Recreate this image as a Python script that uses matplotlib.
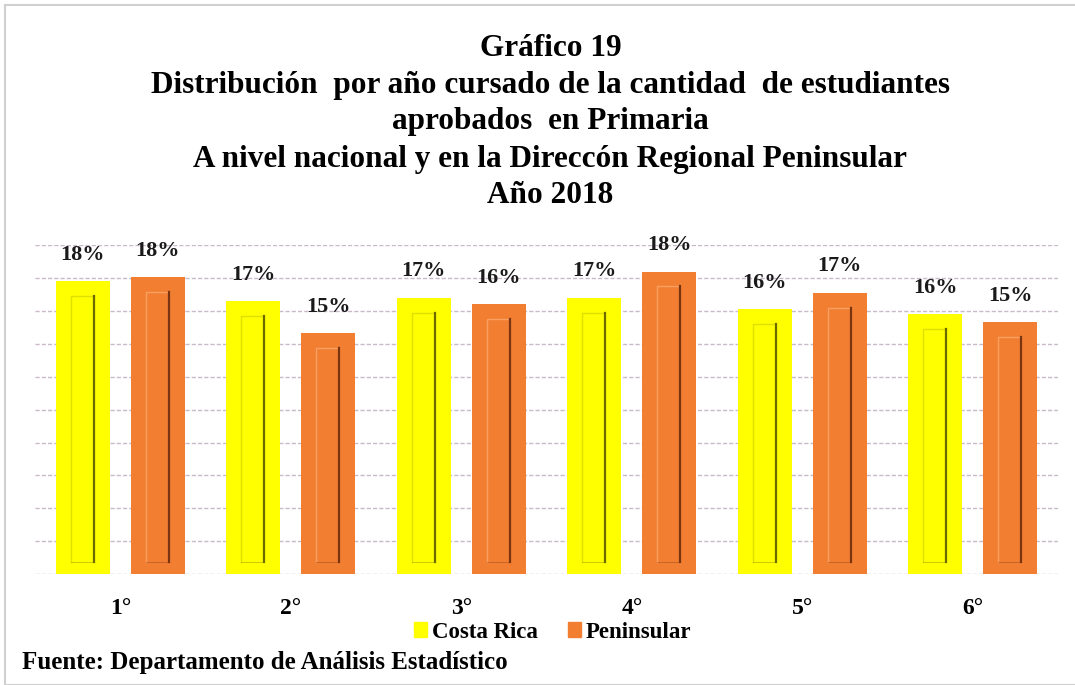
import matplotlib.pyplot as plt
import matplotlib.patches as mpatches
import numpy as np

# Datos
grados = ['1°', '2°', '3°', '4°', '5°', '6°']
costa_rica = [17.8, 16.6, 16.8, 16.8, 16.1, 15.8]
peninsular = [18.05, 14.65, 16.4, 18.4, 17.1, 15.3]
etiquetas_cr = ['18%', '17%', '17%', '17%', '16%', '16%']
etiquetas_pen = ['18%', '15%', '16%', '18%', '17%', '15%']

amarillo = '#FFFF00'
naranja = '#F27E32'
fuente = 'Liberation Serif'

fig = plt.figure(figsize=(10.75, 6.85), dpi=100)
ax = fig.add_axes([0.0326, 0.162, 0.9516, 0.480])

x = np.arange(len(grados))
ancho = 0.317
desp = 0.22

b1 = ax.bar(x - desp, costa_rica, ancho, color=amarillo, zorder=2, label='Costa Rica')
b2 = ax.bar(x + desp, peninsular, ancho, color=naranja, zorder=2, label='Peninsular')

# efecto de bisel dentro de cada barra
for barras, oscuro, claro in [(b1, '#6d6a00', '#e0e000'), (b2, '#7a3510', '#f9a060')]:
    for b in barras:
        x0 = b.get_x() + b.get_width() * 0.28
        x1 = b.get_x() + b.get_width() * 0.70
        y0 = 0.75
        y1 = b.get_height() - 0.9
        ax.plot([x0, x0, x1], [y0, y1, y1], color=claro, lw=1, zorder=3)
        ax.plot([x0, x1], [y0, y0], color=oscuro, lw=0.6, alpha=0.4, zorder=3)
        ax.plot([x1, x1], [y0, y1], color=oscuro, lw=1.6, zorder=3)

for b, t in zip(b1, etiquetas_cr):
    ax.text(b.get_x() + b.get_width() / 2, b.get_height() + 1.0, t, ha='center', va='bottom',
            fontsize=16, fontweight='bold', family=fuente, color='#1a1a1a')
for b, t in zip(b2, etiquetas_pen):
    ax.text(b.get_x() + b.get_width() / 2, b.get_height() + 1.0, t, ha='center', va='bottom',
            fontsize=16, fontweight='bold', family=fuente, color='#1a1a1a')

ax.set_xlim(-0.5, 5.5)
ax.set_ylim(0, 20)
ax.set_yticks(np.arange(0, 21, 2))
ax.set_yticklabels([])
ax.tick_params(axis='y', length=0)
ax.tick_params(axis='x', length=0, pad=17)
ax.set_xticks(x)
ax.set_xticklabels(grados, fontsize=17, fontweight='bold', family=fuente)
ax.grid(axis='y', color='#c9b9c9', linestyle=(0, (3, 1.5)), lw=1, zorder=0)
for s in ax.spines.values():
    s.set_visible(False)

# Títulos
titulos = ['Gráfico 19',
           'Distribución  por año cursado de la cantidad  de estudiantes',
           'aprobados  en Primaria',
           'A nivel nacional y en la Direccón Regional Peninsular',
           'Año 2018']
for i, t in enumerate(titulos):
    fig.text(0.512, 1 - (48 + i * 37) / 685, t, ha='center', va='center',
             fontsize=22.5, fontweight='bold', family=fuente)

ax.legend(handles=[mpatches.Patch(color=amarillo, label='Costa Rica'),
                   mpatches.Patch(color=naranja, label='Peninsular')],
          loc='center', bbox_to_anchor=(0.514, 1 - 632 / 685), bbox_transform=fig.transFigure,
          ncol=2, frameon=False, handlelength=0.6, handleheight=0.6, handletextpad=0.2,
          columnspacing=1.3, prop={'family': fuente, 'weight': 'bold', 'size': 16.5})

fig.text(22 / 1075, 1 - 662 / 685, 'Fuente: Departamento de Análisis Estadístico',
         ha='left', va='center', fontsize=18, fontweight='bold', family=fuente)

# borde gris del recuadro
fig.patches.append(mpatches.Rectangle((5 / 1075, 0.0), 1.0, 1 - 5 / 685, transform=fig.transFigure,
                                      fill=False, edgecolor='#d0d0d0', lw=1.5))

fig.savefig('out.png', dpi=100)
